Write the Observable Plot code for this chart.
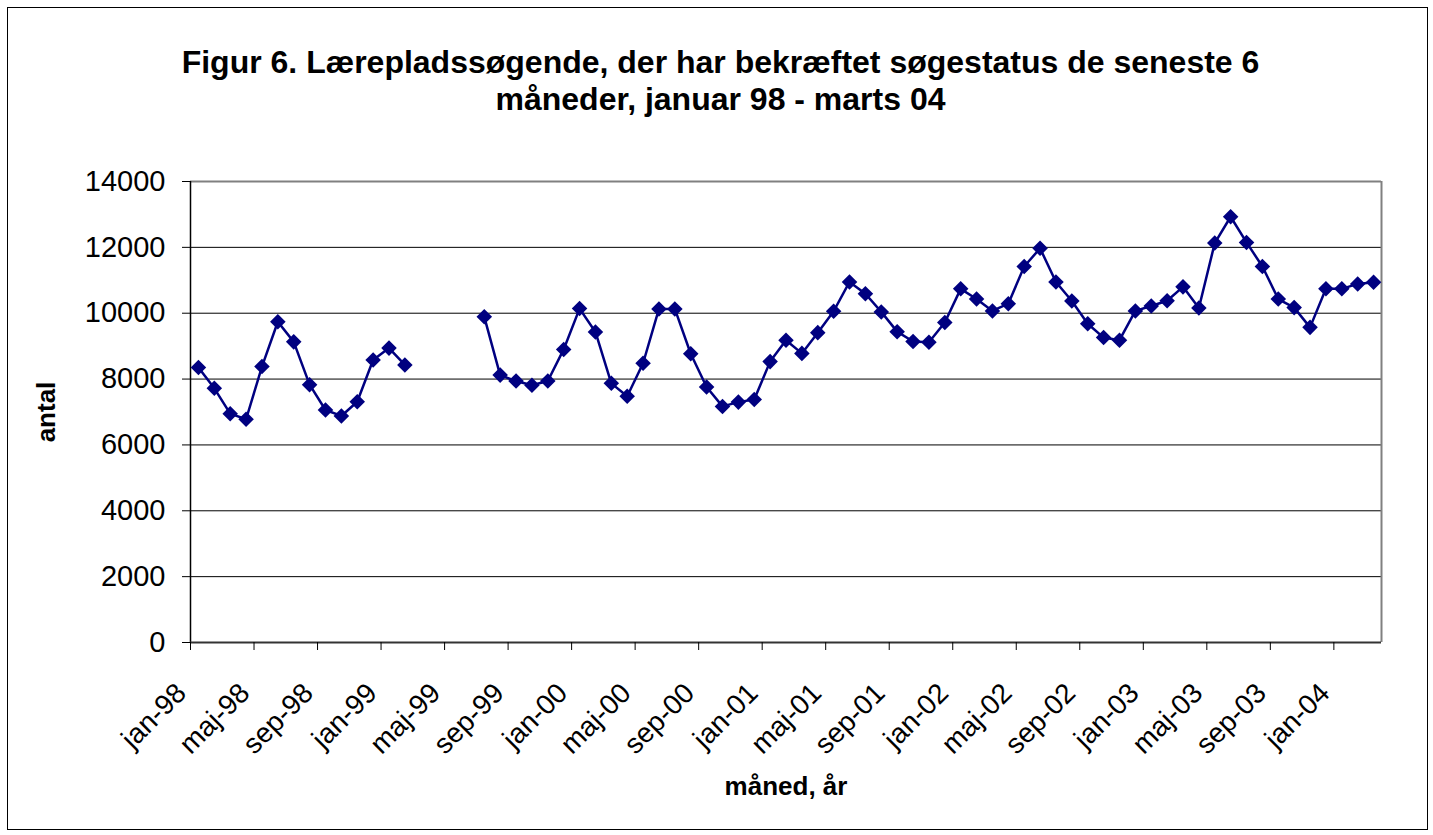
<!DOCTYPE html>
<html><head><meta charset="utf-8">
<script src="https://cdn.jsdelivr.net/npm/d3@7"></script>
<script src="https://cdn.jsdelivr.net/npm/@observablehq/plot@0.6"></script>
<style>
body{margin:0;background:#fff;}
#wrap{position:relative;width:1433px;height:835px;}
#border{position:absolute;left:7px;top:7px;width:1421px;height:823px;border:1px solid #000;box-sizing:border-box;pointer-events:none}
</style></head><body><div id="wrap"><div id="chart"></div><div id="border"></div></div>
<script>
const titleLines = ["Figur 6. Lærepladssøgende, der har bekræftet søgestatus de seneste 6", "måneder, januar 98 - marts 04"];
const yTitle = "antal";
const xTitle = "måned, år";
const categories = [
  "jan-98","feb-98","mar-98","apr-98","maj-98","jun-98","jul-98","aug-98","sep-98","okt-98","nov-98","dec-98",
  "jan-99","feb-99","mar-99","apr-99","maj-99","jun-99","jul-99","aug-99","sep-99","okt-99","nov-99","dec-99",
  "jan-00","feb-00","mar-00","apr-00","maj-00","jun-00","jul-00","aug-00","sep-00","okt-00","nov-00","dec-00",
  "jan-01","feb-01","mar-01","apr-01","maj-01","jun-01","jul-01","aug-01","sep-01","okt-01","nov-01","dec-01",
  "jan-02","feb-02","mar-02","apr-02","maj-02","jun-02","jul-02","aug-02","sep-02","okt-02","nov-02","dec-02",
  "jan-03","feb-03","mar-03","apr-03","maj-03","jun-03","jul-03","aug-03","sep-03","okt-03","nov-03","dec-03",
  "jan-04","feb-04","mar-04"
];
const values = [
  8350, 7720, 6950, 6780, 8380, 9740, 9130, 7830, 7060, 6880, 7310, 8580,
  8940, 8430, null, null, null, null, 9890, 8120, 7940, 7810, 7940, 8900,
  10140, 9430, 7870, 7480, 8480, 10130, 10130, 8770, 7760, 7170, 7300, 7380,
  8530, 9180, 8780, 9410, 10060, 10950, 10590, 10040, 9440, 9140, 9120, 9720,
  10740, 10430, 10070, 10290, 11420, 11970, 10950, 10370, 9680, 9260, 9180, 10070,
  10220, 10380, 10800, 10160, 12130, 12930, 12150, 11420, 10430, 10170, 9570, 10740,
  10740, 10890, 10940
];
const yTicks = [0, 2000, 4000, 6000, 8000, 10000, 12000, 14000];
const xLabelCategories = ["jan-98","maj-98","sep-98","jan-99","maj-99","sep-99","jan-00","maj-00","sep-00","jan-01","maj-01","sep-01","jan-02","maj-02","sep-02","jan-03","maj-03","sep-03","jan-04"];

const data = categories.map((c, i) => ({i, c, v: values[i]}));
const boundaryTicks = xLabelCategories.map(c => ({pos: categories.indexOf(c) - 0.5, label: c}));
const font = "'Liberation Sans', Arial, sans-serif";
const n = categories.length;

const chart = Plot.plot({
  width: 1433, height: 835,
  marginLeft: 190, marginRight: 52, marginTop: 181, marginBottom: 193,
  style: {fontFamily: font, background: "transparent", color: "#000"},
  x: {type: "linear", domain: [-0.5, n - 0.5]},
  y: {domain: [0, 14000]},
  marks: [
    Plot.gridY(yTicks, {stroke: "#000", strokeOpacity: 1, strokeWidth: 1}),
    Plot.ruleY([yTicks[yTicks.length - 1]], {stroke: "#808080", strokeWidth: 2}),
    Plot.ruleX([n - 0.5], {stroke: "#808080", strokeWidth: 2}),
    Plot.ruleX([-0.5], {stroke: "#000", strokeWidth: 1.5}),
    Plot.ruleY([0], {stroke: "#333", strokeWidth: 2}),
    Plot.axisY(yTicks, {tickSize: 8, tickPadding: 17, fontSize: 29, label: null, stroke: "#000", tickFormat: d => String(d)}),
    Plot.axisX(boundaryTicks.map(d => d.pos), {tickSize: 8, label: null, stroke: "#000", tickFormat: () => ""}),
    Plot.text(boundaryTicks, {x: "pos", text: "label", frameAnchor: "bottom", dx: -9, dy: 46, rotate: -45,
      textAnchor: "end", lineAnchor: "middle", fontSize: 28}),
    Plot.line(data, {x: "i", y: "v", stroke: "#000080", strokeWidth: 2.5}),
    Plot.dot(data.filter(d => d.v != null), {x: "i", y: "v", symbol: "diamond2", r: 7, fill: "#000080", stroke: "none"}),
    Plot.text([titleLines[0]], {frameAnchor: "top", dx: -65.5, dy: 50 - 181, fontSize: 32, fontWeight: "bold", textAnchor: "middle"}),
    Plot.text([titleLines[1]], {frameAnchor: "top", dx: -65.5, dy: 87 - 181, fontSize: 32, fontWeight: "bold", textAnchor: "middle"}),
    Plot.text([yTitle], {frameAnchor: "left", dx: 46 - 190, rotate: -90, fontSize: 26, fontWeight: "bold", textAnchor: "middle"}),
    Plot.text([xTitle], {frameAnchor: "bottom", dy: 794 - 642, fontSize: 26, fontWeight: "bold", textAnchor: "middle"})
  ]
});
document.getElementById("chart").appendChild(chart);
</script>
</body></html>
